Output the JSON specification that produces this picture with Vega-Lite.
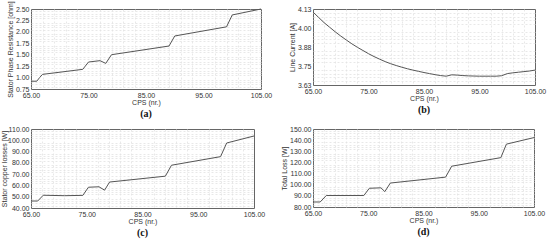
{
  "$schema": "https://vega.github.io/schema/vega-lite/v6.json",
  "padding": {"left": 0, "top": 0, "right": 0, "bottom": 0},
  "background": "white",
  "config": {
    "font": "Liberation Sans",
    "view": {"stroke": "#666", "strokeWidth": 1},
    "axis": {"labelFont": "Liberation Sans", "titleFont": "Liberation Sans", "labelFontSize": 7, "titleFontSize": 7, "titleFontWeight": "normal", "labelColor": "#333", "titleColor": "#333", "ticks": false, "domain": false, "labelPadding": 2, "labelFlush": false, "gridColor": "#c8c8c8", "gridWidth": 0.8},
    "title": {"font": "Liberation Serif", "fontSize": 10, "fontWeight": "bold", "color": "#111", "orient": "bottom", "offset": 0},
    "line": {"color": "#555", "strokeWidth": 1}
  },
  "spacing": 4,
  "vconcat": [
    {
      "spacing": 14,
      "hconcat": [
        {
          "width": 230, "height": 80,
          "title": "(a)",
          "data": {"values": [
            {"x": 65, "y": 0.92}, {"x": 66, "y": 0.92}, {"x": 66.5, "y": 1.0}, {"x": 67, "y": 1.07}, {"x": 74, "y": 1.18}, {"x": 75, "y": 1.34}, {"x": 77, "y": 1.37}, {"x": 78, "y": 1.31}, {"x": 79, "y": 1.5}, {"x": 89, "y": 1.69}, {"x": 90, "y": 1.91}, {"x": 99, "y": 2.11}, {"x": 100, "y": 2.37}, {"x": 105, "y": 2.5}
          ]},
          "layer": [
            {"mark": {"type": "line", "opacity": 0}, "encoding": {
              "x": {"field": "x", "type": "quantitative", "scale": {"domain": [65, 105], "nice": false, "zero": false}, "axis": {"orient": "bottom", "values": [67,69,71,73,77,79,81,83,87,89,91,93,97,99,101,103], "labels": false, "title": null, "gridDash": [2,2], "gridColor": "#e2e2e2"}},
              "y": {"field": "y", "type": "quantitative", "scale": {"domain": [0.75, 2.5], "nice": false, "zero": false}, "axis": {"orient": "left", "values": [0.8,0.85,0.9,0.95,1.05,1.1,1.15,1.2,1.3,1.35,1.4,1.45,1.55,1.6,1.65,1.7,1.8,1.85,1.9,1.95,2.05,2.1,2.15,2.2,2.3,2.35,2.4,2.45], "labels": false, "title": null, "gridDash": [2,2], "gridColor": "#e2e2e2"}}
            }},
            {"mark": "line", "encoding": {
              "x": {"field": "x", "type": "quantitative", "axis": {"orient": "bottom", "values": [65,75,85,95,105], "format": ".2f", "title": "CPS (nr.)", "titlePadding": 0}},
              "y": {"field": "y", "type": "quantitative", "axis": {"orient": "left", "values": [0.75,1,1.25,1.5,1.75,2,2.25,2.5], "format": ".2f", "title": "Stator Phase Resistance [ohm]", "titlePadding": 2}}
            }}
          ],
          "resolve": {"axis": {"x": "independent", "y": "independent"}}
        },
        {
          "width": 222, "height": 76,
          "title": "(b)",
          "data": {"values": [
            {"x": 65, "y": 4.11}, {"x": 66, "y": 4.075}, {"x": 67, "y": 4.04}, {"x": 68, "y": 4.01}, {"x": 69, "y": 3.98}, {"x": 70, "y": 3.952}, {"x": 71, "y": 3.926}, {"x": 72, "y": 3.901}, {"x": 73, "y": 3.878}, {"x": 74, "y": 3.857}, {"x": 75, "y": 3.836}, {"x": 76, "y": 3.817}, {"x": 77, "y": 3.8}, {"x": 78, "y": 3.784}, {"x": 79, "y": 3.77}, {"x": 80, "y": 3.758}, {"x": 81, "y": 3.747}, {"x": 82, "y": 3.737}, {"x": 83, "y": 3.728}, {"x": 84, "y": 3.72}, {"x": 85, "y": 3.712}, {"x": 86, "y": 3.705}, {"x": 87, "y": 3.698}, {"x": 88, "y": 3.692}, {"x": 89, "y": 3.688}, {"x": 90, "y": 3.697}, {"x": 91, "y": 3.695}, {"x": 92, "y": 3.692}, {"x": 93, "y": 3.69}, {"x": 94, "y": 3.689}, {"x": 95, "y": 3.688}, {"x": 96, "y": 3.688}, {"x": 97, "y": 3.688}, {"x": 98, "y": 3.688}, {"x": 99, "y": 3.691}, {"x": 100, "y": 3.705}, {"x": 101, "y": 3.71}, {"x": 102, "y": 3.714}, {"x": 103, "y": 3.718}, {"x": 104, "y": 3.722}, {"x": 105, "y": 3.728}
          ]},
          "layer": [
            {"mark": {"type": "line", "opacity": 0}, "encoding": {
              "x": {"field": "x", "type": "quantitative", "scale": {"domain": [65, 105], "nice": false, "zero": false}, "axis": {"orient": "bottom", "values": [67,69,71,73,77,79,81,83,87,89,91,93,97,99,101,103], "labels": false, "title": null, "gridDash": [2,2], "gridColor": "#e2e2e2"}},
              "y": {"field": "y", "type": "quantitative", "scale": {"domain": [3.63, 4.13], "nice": false, "zero": false}, "axis": {"orient": "left", "values": [3.655,3.68,3.705,3.73,3.78,3.805,3.83,3.855,3.905,3.93,3.955,3.98,4.03,4.055,4.08,4.105], "labels": false, "title": null, "gridDash": [2,2], "gridColor": "#e2e2e2"}}
            }},
            {"mark": "line", "encoding": {
              "x": {"field": "x", "type": "quantitative", "axis": {"orient": "bottom", "values": [65,75,85,95,105], "format": ".2f", "title": "CPS (nr.)", "titlePadding": 0}},
              "y": {"field": "y", "type": "quantitative", "axis": {"orient": "left", "values": [3.63,3.755,3.88,4.005,4.13], "format": ".2f", "title": "Line Current [A]", "titlePadding": 2}}
            }}
          ],
          "resolve": {"axis": {"x": "independent", "y": "independent"}}
        }
      ]
    },
    {
      "spacing": 14,
      "hconcat": [
        {
          "width": 223, "height": 79,
          "title": "(c)",
          "data": {"values": [
            {"x": 65, "y": 46.2}, {"x": 66.2, "y": 46.2}, {"x": 67.2, "y": 51.3}, {"x": 71, "y": 50.9}, {"x": 74.3, "y": 51.2}, {"x": 75.3, "y": 58.4}, {"x": 77.2, "y": 58.8}, {"x": 78.2, "y": 55.8}, {"x": 79.1, "y": 63.0}, {"x": 89.1, "y": 68.2}, {"x": 90.2, "y": 77.9}, {"x": 99, "y": 85.5}, {"x": 100.1, "y": 97.6}, {"x": 105, "y": 103.8}
          ]},
          "layer": [
            {"mark": {"type": "line", "opacity": 0}, "encoding": {
              "x": {"field": "x", "type": "quantitative", "scale": {"domain": [65, 105], "nice": false, "zero": false}, "axis": {"orient": "bottom", "values": [67,69,71,73,77,79,81,83,87,89,91,93,97,99,101,103], "labels": false, "title": null, "gridDash": [2,2], "gridColor": "#e2e2e2"}},
              "y": {"field": "y", "type": "quantitative", "scale": {"domain": [40, 110], "nice": false, "zero": false}, "axis": {"orient": "left", "values": [42,44,46,48,52,54,56,58,62,64,66,68,72,74,76,78,82,84,86,88,92,94,96,98,102,104,106,108], "labels": false, "title": null, "gridDash": [2,2], "gridColor": "#e2e2e2"}}
            }},
            {"mark": "line", "encoding": {
              "x": {"field": "x", "type": "quantitative", "axis": {"orient": "bottom", "values": [65,75,85,95,105], "format": ".2f", "title": "CPS (nr.)", "titlePadding": 0}},
              "y": {"field": "y", "type": "quantitative", "axis": {"orient": "left", "values": [40,50,60,70,80,90,100,110], "format": ".2f", "title": "Stator copper losses [W]", "titlePadding": 0}}
            }}
          ],
          "resolve": {"axis": {"x": "independent", "y": "independent"}}
        },
        {
          "width": 221, "height": 78,
          "title": "(d)",
          "data": {"values": [
            {"x": 65, "y": 84.5}, {"x": 66.3, "y": 84.5}, {"x": 67.4, "y": 90.3}, {"x": 74.2, "y": 90.3}, {"x": 75.2, "y": 96.8}, {"x": 77.3, "y": 97.2}, {"x": 78, "y": 93.8}, {"x": 79, "y": 101.5}, {"x": 89, "y": 106.8}, {"x": 90.1, "y": 116.6}, {"x": 99, "y": 124.3}, {"x": 100, "y": 136.4}, {"x": 105, "y": 142.3}
          ]},
          "layer": [
            {"mark": {"type": "line", "opacity": 0}, "encoding": {
              "x": {"field": "x", "type": "quantitative", "scale": {"domain": [65, 105], "nice": false, "zero": false}, "axis": {"orient": "bottom", "values": [67,69,71,73,77,79,81,83,87,89,91,93,97,99,101,103], "labels": false, "title": null, "gridDash": [2,2], "gridColor": "#e2e2e2"}},
              "y": {"field": "y", "type": "quantitative", "scale": {"domain": [80, 150], "nice": false, "zero": false}, "axis": {"orient": "left", "values": [82,84,86,88,92,94,96,98,102,104,106,108,112,114,116,118,122,124,126,128,132,134,136,138,142,144,146,148], "labels": false, "title": null, "gridDash": [2,2], "gridColor": "#e2e2e2"}}
            }},
            {"mark": "line", "encoding": {
              "x": {"field": "x", "type": "quantitative", "axis": {"orient": "bottom", "values": [65,75,85,95,105], "format": ".2f", "title": "CPS (nr.)", "titlePadding": 0}},
              "y": {"field": "y", "type": "quantitative", "axis": {"orient": "left", "values": [80,90,100,110,120,130,140,150], "format": ".2f", "title": "Total Loss [W]", "titlePadding": 2}}
            }}
          ],
          "resolve": {"axis": {"x": "independent", "y": "independent"}}
        }
      ]
    }
  ]
}
